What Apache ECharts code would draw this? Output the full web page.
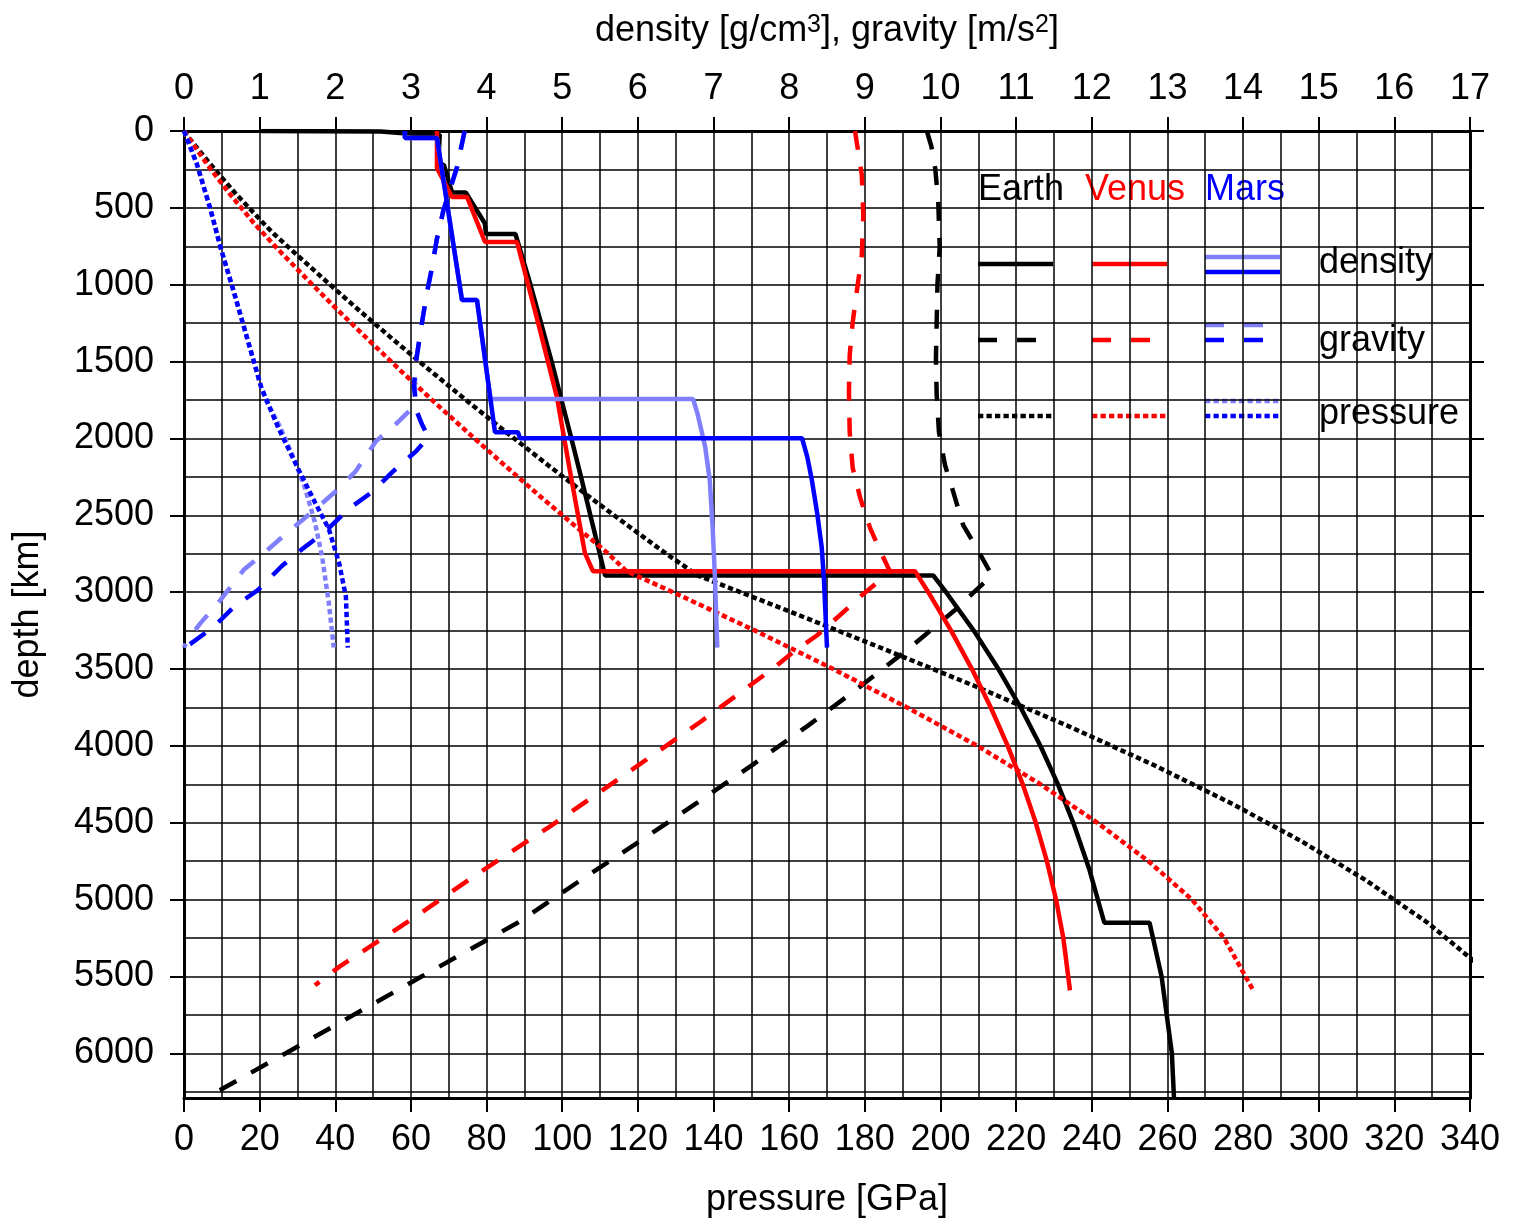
<!DOCTYPE html>
<html>
<head>
<meta charset="utf-8">
<title>density, gravity and pressure in Earth, Venus and Mars</title>
<script src="https://cdn.jsdelivr.net/npm/echarts@6/dist/echarts.min.js"></script>
<style>
  html, body { margin: 0; padding: 0; background: #fff; }
  #chart { width: 1520px; height: 1226px; }
</style>
</head>
<body>
<div id="chart"></div>
<script>
// axes
const depthMax = 6290;
const depthTicks = [0, 500, 1000, 1500, 2000, 2500, 3000, 3500, 4000, 4500, 5000, 5500, 6000];
const pressureMax = 340;
const densityMax = 17;

// [value, depth km]  -- density g/cm3, gravity m/s2, pressure GPa
const earthDensity = [[1.02,0],[1.02,3],[2.6,3],[2.6,15],[2.9,15],[2.9,24],[3.381,24],[3.375,80],[3.36,220],[3.436,220],
  [3.543,400],[3.724,400],[3.976,600],[3.992,670],[4.381,670],[4.443,771],[4.58,1000],[4.72,1250],[4.86,1500],[4.99,1750],
  [5.121,2000],[5.248,2250],[5.372,2500],[5.492,2741],[5.566,2891],[9.904,2891],[10.074,3000],[10.44,3250],[10.766,3500],
  [11.06,3750],[11.322,4000],[11.553,4250],[11.756,4500],[11.966,4800],[12.166,5150],[12.764,5150],[12.923,5500],
  [13.059,6000],[13.087,6290]];
const earthGravity = [[9.82,0],[9.88,100],[9.93,241],[9.97,450],[9.99,755],[9.96,1000],[9.95,1243],[9.94,1477],[9.95,1718],
  [9.98,1959],[10.06,2173],[10.17,2349],[10.30,2564],[10.48,2714],[10.68,2891],[10.18,3121],[9.57,3371],[8.92,3621],
  [8.24,3871],[7.52,4121],[6.78,4371],[6.02,4621],[5.25,4871],[4.41,5150],[3.14,5500],[1.34,6000],[0.29,6290]];
const earthPressure = [[0,0],[0.6,24],[2.5,80],[7.1,220],[13.4,400],[21.0,600],[23.8,670],[28.3,771],[37.3,971],[46.5,1171],
  [56.0,1371],[65.7,1571],[75.6,1771],[85.8,1971],[96.1,2171],[106.7,2371],[117.6,2571],[127.0,2741],[135.8,2891],
  [159.7,3121],[185.2,3371],[210.1,3621],[233.8,3871],[256.1,4121],[276.7,4371],[295.5,4621],[312.3,4871],[328.8,5150],
  [346.0,5500],[360.6,6000],[363.7,6290]];

const venusDensity = [[3.344,0],[3.344,241],[3.543,429],[3.741,429],[3.979,722],[4.402,722],[4.706,1295],[4.93,1731],
  [5.10,2206],[5.30,2746],[5.406,2863],[9.663,2863],[9.839,3000],[10.14,3250],[10.416,3500],[10.665,3750],[10.889,4000],
  [11.088,4250],[11.26,4500],[11.407,4750],[11.528,5000],[11.624,5250],[11.712,5590]];
const venusGravity = [[8.87,0],[8.96,286],[8.98,547],[8.96,807],[8.90,1022],[8.84,1243],[8.80,1458],[8.79,1698],[8.80,1959],
  [8.84,2193],[8.94,2388],[9.07,2583],[9.23,2759],[9.33,2863],[9.20,2922],[8.96,3020],[8.67,3150],[8.37,3280],[8.05,3390],
  [7.79,3495],[6.82,3846],[5.76,4210],[4.84,4523],[3.91,4822],[2.99,5134],[2.06,5434],[1.73,5557]];
const venusPressure = [[0,0],[6.2,220],[11.8,400],[18.5,600],[24.9,771],[32.8,971],[40.9,1171],[49.3,1371],[57.8,1571],
  [66.5,1771],[75.5,1971],[84.6,2171],[93.9,2371],[103.5,2571],[111.8,2741],[117,2863],[129.3,3000],[151,3250],
  [171.7,3500],[191.2,3750],[209.8,4000],[226.5,4250],[241.5,4500],[255,4750],[266.5,5000],[275,5250],[282.7,5590]];

// Mars, two models: "a" light blue, "b" blue
const marsDensityA = [[2.92,0],[2.92,46],[3.344,46],[3.675,1100],[3.873,1100],[4.05,1744],[6.73,1744],[6.79,1842],
  [6.89,2056],[6.95,2271],[6.99,2596],[7.02,2922],[7.05,3360]];
const marsDensityB = [[2.92,0],[2.92,46],[3.344,46],[3.675,1100],[3.873,1100],[4.111,1959],[4.415,1959],[4.44,1998],
  [8.17,1998],[8.24,2121],[8.30,2271],[8.37,2486],[8.43,2707],[8.46,2922],[8.50,3360]];
const marsGravityA = [[3.71,0],[3.61,234],[3.43,514],[3.34,709],[3.28,885],[3.21,1054],[3.13,1295],[3.07,1490],[3.05,1653],
  [3.06,1744],[3.03,1796],[2.80,1907],[2.54,2017],[2.27,2213],[2.0,2347],[1.69,2479],[1.37,2610],[1.06,2744],[0.79,2854],
  [0.48,3052],[0.21,3206],[0.04,3316],[0,3360]];
const marsGravityB = [[3.71,0],[3.61,234],[3.43,514],[3.34,709],[3.28,885],[3.21,1054],[3.13,1295],[3.07,1490],[3.04,1653],
  [3.07,1816],[3.15,1913],[3.23,1991],[3.07,2082],[2.76,2216],[2.49,2347],[2.18,2457],[1.86,2609],[1.56,2720],[1.29,2831],
  [0.98,2985],[0.66,3095],[0.39,3227],[0.08,3338],[0,3360]];
const marsPressureA = [[0,0],[3.4,215],[6.9,501],[9.7,761],[13.2,1048],[16.8,1357],[20.4,1666],[21.5,1744],[25.5,1929],
  [28.6,2105],[32.0,2323],[34.6,2544],[36.5,2766],[38.3,3072],[39.6,3360]];
const marsPressureB = [[0,0],[3.4,215],[6.9,501],[9.7,761],[13.2,1048],[16.8,1357],[20.4,1666],[24.9,1929],[30.1,2193],
  [34.6,2414],[38.3,2590],[41.0,2809],[42.8,3029],[43.3,3360]];

const planets = ['Earth', 'Venus', 'Mars'];
const quantities = ['density', 'gravity', 'pressure'];

const FONT = '"Liberation Sans", Arial, sans-serif';
const BLACK = '#000000', RED = '#ff0000', BLUE = '#0000ff', LIGHT = '#8080ff';
const LW = 4.5;
const DASH = [19, 17];
const DOT = [5.3, 3.2];

function curve(data, onPressure, color, type) {
  return {
    type: 'line',
    data: data,
    xAxisIndex: onPressure ? 0 : 1,
    yAxisIndex: 0,
    symbol: 'none',
    silent: true,
    clip: true,
    lineStyle: { color: color, width: LW, type: type }
  };
}

const series = [
  curve(earthDensity, false, BLACK, 'solid'),
  curve(earthGravity, false, BLACK, DASH),
  curve(earthPressure, true, BLACK, DOT),
  curve(venusDensity, false, RED, 'solid'),
  curve(venusGravity, false, RED, DASH),
  curve(venusPressure, true, RED, DOT),
  curve(marsDensityA, false, LIGHT, 'solid'),
  curve(marsGravityA, false, LIGHT, DASH),
  curve(marsPressureA, true, LIGHT, DOT),
  curve(marsDensityB, false, BLUE, 'solid'),
  curve(marsGravityB, false, BLUE, DASH),
  curve(marsPressureB, true, BLUE, DOT)
];

// legend block drawn by hand: header row, then one row per quantity
const legend = [];
const headX = [978, 1085, 1205];
const headColor = [BLACK, RED, BLUE];
planets.forEach(function (p, i) {
  legend.push({ type: 'text', left: headX[i], top: 172,
    style: { text: p, fill: headColor[i], font: '36px ' + FONT } });
});
const rowY = [264, 340, 416];
const rowLabelY = [245, 323, 396];
const rowDash = [null, [19, 20], [5.3, 3.2]];
const rowLen = [75, 58, 75];
const sampleX = [978, 1092, 1205];
quantities.forEach(function (q, r) {
  legend.push({ type: 'text', left: 1319, top: rowLabelY[r],
    style: { text: q, fill: BLACK, font: '36px ' + FONT } });
  const colors = [[BLACK], [RED], [LIGHT, BLUE]];
  colors.forEach(function (cs, c) {
    cs.forEach(function (col, k) {
      let y = rowY[r];
      if (cs.length > 1 && k === 0) y = r === 0 ? 257 : rowY[r] - 15;
      if (cs.length > 1 && k === 1 && r === 0) y = 272;
      legend.push({ type: 'line', silent: true,
        shape: { x1: sampleX[c], y1: y, x2: sampleX[c] + rowLen[r], y2: y },
        style: { stroke: col, lineWidth: LW, lineDash: rowDash[r] } });
    });
  });
});

const labelStyle = { fontSize: 36, color: BLACK, fontFamily: FONT };
const nameStyle = { fontSize: 36, color: BLACK, fontFamily: FONT };
const frame = { show: true, onZero: false, lineStyle: { color: BLACK, width: 3 } };
const tick = { show: true, inside: false, length: 14, lineStyle: { color: BLACK, width: 2 } };
const fine = { show: true, lineStyle: { color: BLACK, width: 1.5 } };
const off = { show: false };

const chart = echarts.init(document.getElementById('chart'), null, { renderer: 'canvas' });
chart.setOption({
  animation: false,
  backgroundColor: '#ffffff',
  grid: { left: 184, top: 131, right: 50, bottom: 128, containLabel: false, outerBoundsMode: 'none' },
  xAxis: [
    { type: 'value', position: 'bottom', min: 0, max: pressureMax, interval: 20,
      axisLine: frame, axisTick: tick, splitLine: off,
      axisLabel: Object.assign({ margin: 24 }, labelStyle),
      name: 'pressure [GPa]', nameLocation: 'middle', nameGap: 84, nameMoveOverlap: false,
      nameTextStyle: nameStyle },
    { type: 'value', position: 'top', min: 0, max: densityMax, interval: 1,
      axisLine: frame, axisTick: tick, splitLine: off,
      axisLabel: Object.assign({ margin: 24 }, labelStyle),
      name: 'density [g/cm{sup|3}], gravity [m/s{sup|2}]', nameLocation: 'middle', nameGap: 82, nameMoveOverlap: false,
      nameTextStyle: Object.assign({ rich: { sup: { fontSize: 25, fontFamily: FONT, color: BLACK, verticalAlign: 'top' } } }, nameStyle) },
    { type: 'value', position: 'bottom', min: 0, max: pressureMax, interval: 10,
      axisLine: off, axisTick: off, axisLabel: off, splitLine: fine }
  ],
  yAxis: [
    { type: 'value', inverse: true, position: 'left', min: 0, max: depthMax, interval: 500,
      axisLine: frame, splitLine: off,
      axisTick: Object.assign({ customValues: depthTicks }, tick),
      axisLabel: Object.assign({ margin: 30, customValues: depthTicks,
        formatter: function (v) { return String(v); } }, labelStyle),
      name: 'depth [km]', nameLocation: 'middle', nameGap: 138, nameRotate: 90, nameMoveOverlap: false,
      nameTextStyle: nameStyle },
    { type: 'value', inverse: true, position: 'right', min: 0, max: depthMax, interval: 500,
      axisLine: frame, splitLine: off, axisLabel: off,
      axisTick: Object.assign({ customValues: depthTicks }, tick) },
    { type: 'value', inverse: true, position: 'left', min: 0, max: depthMax, interval: 250,
      axisLine: off, axisTick: off, axisLabel: off, splitLine: fine }
  ],
  graphic: legend,
  series: series
});
</script>
</body>
</html>
